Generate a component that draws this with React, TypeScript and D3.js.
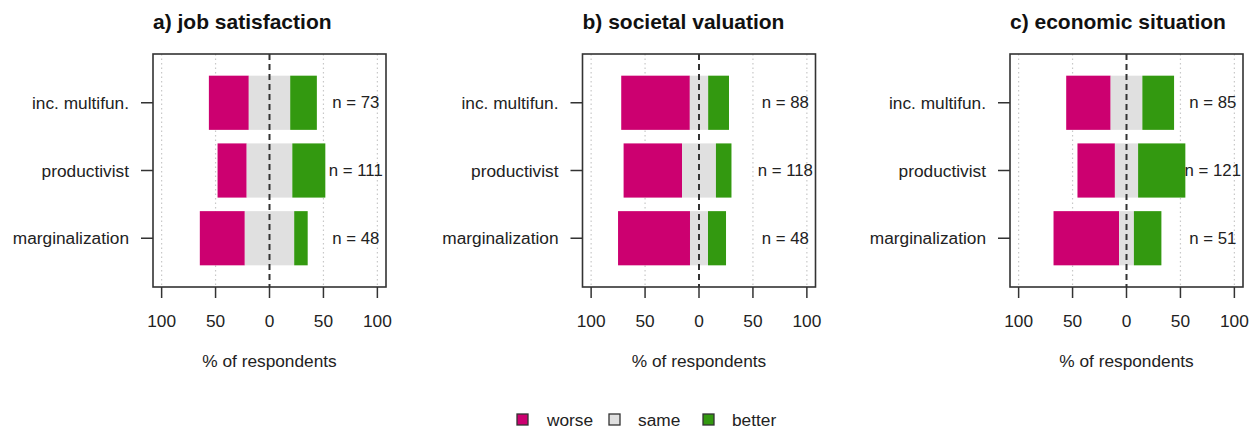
// @ts-nocheck
import React from 'react'
import * as d3 from 'd3'

const categories = ['inc. multifun.', 'productivist', 'marginalization']
const titles = ['a) job satisfaction', 'b) societal valuation', 'c) economic situation']

// percent of respondents per group
const jobWorse = [37.0, 27.0, 41.7]
const jobSame = [38.4, 42.3, 45.8]
const jobBetter = [24.7, 30.6, 12.5]
const jobN = [73, 111, 48]

const socWorse = [63.6, 54.2, 66.7]
const socSame = [17.0, 31.4, 16.7]
const socBetter = [19.3, 14.4, 16.7]
const socN = [88, 118, 48]

const ecoWorse = [41.2, 34.7, 60.8]
const ecoSame = [29.4, 21.5, 13.7]
const ecoBetter = [29.4, 43.8, 25.5]
const ecoN = [85, 121, 51]

const xTicks = [-100, -50, 0, 50, 100]
const gridTicks = [-100, -50, 50, 100]
const legendKeys = ['worse', 'same', 'better']

const colors = d3.scaleOrdinal().domain(legendKeys).range(['#CC0070', '#E0E0E0', '#339910'])
const font = '"Liberation Sans", Arial, Helvetica, sans-serif'
const fs = 17.3

const W = 1254
const H = 431
const top = 54
const bottom = 287
const boxW = 233
const lefts = [153, 582.5, 1010]

const Panel = ({ left, title, worse, same, better, n }) => {
  const x = d3.scaleLinear().domain([-108, 108]).range([left, left + boxW])
  const y = d3.scaleBand().domain(categories).range([top, bottom]).paddingInner(0.2).paddingOuter(0.32)

  const rows = categories.map((c, i) => ({
    cat: c,
    segs: [
      { key: 'worse', x0: -same[i] / 2 - worse[i], x1: -same[i] / 2 },
      { key: 'same', x0: -same[i] / 2, x1: same[i] / 2 },
      { key: 'better', x0: same[i] / 2, x1: same[i] / 2 + better[i] },
    ],
    n: n[i],
  }))

  return (
    <g>
      <text x={left} y={29} fontSize={21} fontWeight="bold" fill="#111" fontFamily={font}>
        {title}
      </text>
      {gridTicks.map((t) => (
        <line key={t} x1={x(t)} x2={x(t)} y1={top} y2={bottom} stroke="#c8c8c8" strokeWidth={1.2} strokeDasharray="1.5,3" />
      ))}
      {rows.map((r) => (
        <g key={r.cat}>
          {r.segs.map((s) => (
            <rect
              key={s.key}
              x={x(s.x0)}
              y={y(r.cat)}
              width={x(s.x1) - x(s.x0)}
              height={y.bandwidth()}
              fill={colors(s.key)}
            />
          ))}
          <text
            x={x(80)}
            y={y(r.cat) + y.bandwidth() / 2}
            textAnchor="middle"
            dominantBaseline="central"
            fontSize={16.8}
            fill="#222"
            fontFamily={font}
          >
            {`n = ${r.n}`}
          </text>
          <line x1={left - 12} x2={left} y1={y(r.cat) + y.bandwidth() / 2} y2={y(r.cat) + y.bandwidth() / 2} stroke="#333" strokeWidth={1.5} />
          <text
            x={left - 24}
            y={y(r.cat) + y.bandwidth() / 2}
            textAnchor="end"
            dominantBaseline="central"
            fontSize={fs}
            fill="#222"
            fontFamily={font}
          >
            {r.cat}
          </text>
        </g>
      ))}
      <line x1={x(0)} x2={x(0)} y1={top} y2={bottom} stroke="#333" strokeWidth={2} strokeDasharray="6,4" />
      <rect x={left} y={top} width={boxW} height={bottom - top} fill="none" stroke="#333" strokeWidth={1.6} />
      {xTicks.map((t) => (
        <g key={t}>
          <line x1={x(t)} x2={x(t)} y1={bottom} y2={bottom + 11} stroke="#333" strokeWidth={1.5} />
          <text x={x(t)} y={327} textAnchor="middle" fontSize={fs} fill="#222" fontFamily={font}>
            {Math.abs(t)}
          </text>
        </g>
      ))}
      <text x={x(0)} y={367} textAnchor="middle" fontSize={fs} fill="#222" fontFamily={font}>
        % of respondents
      </text>
    </g>
  )
}

const Legend = () => {
  const items = [
    { key: 'worse', sx: 517, tx: 547 },
    { key: 'same', sx: 609, tx: 638 },
    { key: 'better', sx: 703, tx: 732 },
  ]
  return (
    <g>
      {items.map((d) => (
        <g key={d.key}>
          <rect x={d.sx} y={414} width={11} height={11} fill={colors(d.key)} stroke="#333" strokeWidth={1.3} />
          <text x={d.tx} y={419.5} dominantBaseline="central" fontSize={fs} fill="#222" fontFamily={font}>
            {d.key}
          </text>
        </g>
      ))}
    </g>
  )
}

export default function App() {
  const panels = [
    { title: titles[0], worse: jobWorse, same: jobSame, better: jobBetter, n: jobN },
    { title: titles[1], worse: socWorse, same: socSame, better: socBetter, n: socN },
    { title: titles[2], worse: ecoWorse, same: ecoSame, better: ecoBetter, n: ecoN },
  ]
  return (
    <svg width={W} height={H} style={{ position: 'absolute', left: 0, top: 0, background: '#fff' }}>
      <rect width={W} height={H} fill="#fff" />
      {panels.map((p, i) => (
        <Panel key={p.title} left={lefts[i]} {...p} />
      ))}
      <Legend />
    </svg>
  )
}
